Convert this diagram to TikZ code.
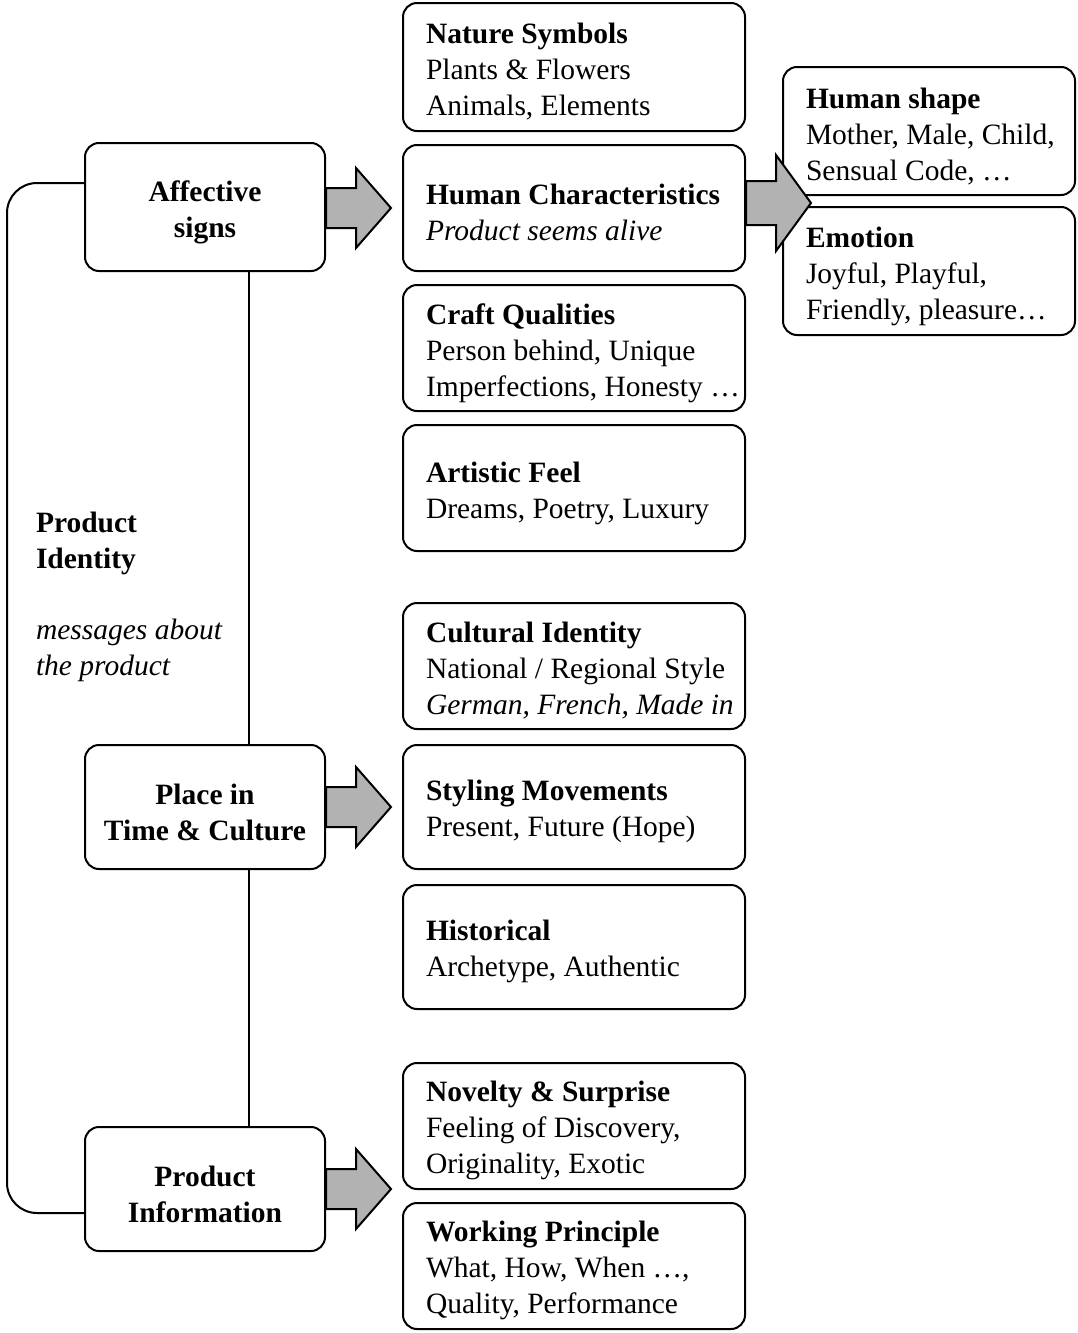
\documentclass[tikz,border=0pt]{standalone}
\usepackage{fontspec}
\setmainfont{Liberation Serif}
\begin{document}
\begin{tikzpicture}[x=1pt,y=-1pt,line width=2pt,
  rbox/.style={draw,rounded corners=14pt,fill=white,inner sep=0pt},
  txt/.style={anchor=west,align=left,inner sep=0pt,font=\fontsize{29.5}{36}\selectfont},
  ctxt/.style={align=center,inner sep=0pt,font=\fontsize{29.5}{36}\selectfont\bfseries},
  barrow/.style={draw,fill=black!30,line join=miter}]
\useasboundingbox (0,0) rectangle (1077,1333);

% left column
\node[rbox,minimum width=240pt,minimum height=128pt] (aff) at (205,207) {};
\node[rbox,minimum width=240pt,minimum height=124pt] (place) at (205,807) {};
\node[rbox,minimum width=240pt,minimum height=124pt] (pinfo) at (205,1189) {};
\node[ctxt] (taff) at ([yshift=-5pt]aff.center) {Affective\\signs};
\node[ctxt] (tplace) at ([yshift=-5pt]place.center) {Place in\\Time \& Culture};
\node[ctxt] (tpinfo) at ([yshift=-5pt]pinfo.center) {Product\\Information};

\draw ([xshift=44pt]aff.south) -- ([xshift=44pt]place.north);
\draw ([xshift=44pt]place.south) -- ([xshift=44pt]pinfo.north);
\draw[rounded corners=30pt] ([yshift=24pt]aff.west) -| ([xshift=-77pt,yshift=-24pt]pinfo.west) -- ([yshift=-24pt]pinfo.west);

\node[txt,font=\fontsize{29.5}{36}\selectfont\bfseries] (pid) at (35,543) {Product\\Identity};
\node[txt] (msg) at (35,650) {\textit{messages about}\\\textit{the product}};

% right column boxes
\node[rbox,minimum width=342pt,minimum height=128pt] (nature) at (574,67) {};
\node[rbox,minimum width=342pt,minimum height=126pt] (human) at (574,208) {};
\node[rbox,minimum width=342pt,minimum height=126pt] (craft) at (574,348) {};
\node[rbox,minimum width=342pt,minimum height=126pt] (art) at (574,488) {};
\node[rbox,minimum width=342pt,minimum height=126pt] (cult) at (574,666) {};
\node[rbox,minimum width=342pt,minimum height=124pt] (styl) at (574,807) {};
\node[rbox,minimum width=342pt,minimum height=124pt] (hist) at (574,947) {};
\node[rbox,minimum width=342pt,minimum height=126pt] (nov) at (574,1126) {};
\node[rbox,minimum width=342pt,minimum height=126pt] (work) at (574,1266) {};

\node[txt] (tnature) at ([xshift=23pt,yshift=-5pt]nature.west) {\textbf{Nature Symbols}\\Plants \& Flowers\\Animals, Elements};
\node[txt] (thuman) at ([xshift=23pt,yshift=-4pt]human.west) {\textbf{Human Characteristics}\\\textit{Product seems alive}};
\node[txt] (tcraft) at ([xshift=23pt,yshift=-5pt]craft.west) {\textbf{Craft Qualities}\\Person behind, Unique\\Imperfections, Honesty …};
\node[txt] (tart) at ([xshift=23pt,yshift=-5pt]art.west) {\textbf{Artistic Feel}\\Dreams, Poetry, Luxury};
\node[txt] (tcult) at ([xshift=23pt,yshift=-5pt]cult.west) {\textbf{Cultural Identity}\\National / Regional Style\\\textit{German, French, Made in}};
\node[txt] (tstyl) at ([xshift=23pt,yshift=-4pt]styl.west) {\textbf{Styling Movements}\\Present, Future (Hope)};
\node[txt] (thist) at ([xshift=23pt,yshift=-4pt]hist.west) {\textbf{Historical}\\Archetype, Authentic};
\node[txt] (tnov) at ([xshift=23pt,yshift=-4pt]nov.west) {\textbf{Novelty \& Surprise}\\Feeling of Discovery,\\Originality, Exotic};
\node[txt] (twork) at ([xshift=23pt,yshift=-4pt]work.west) {\textbf{Working Principle}\\What, How, When …,\\Quality, Performance};

% far right boxes
\node[rbox,minimum width=292pt,minimum height=128pt] (hshape) at (929,131) {};
\node[rbox,minimum width=292pt,minimum height=128pt] (emo) at (929,271) {};
\node[txt] (thshape) at ([xshift=23pt,yshift=-6pt]hshape.west) {\textbf{Human shape}\\Mother, Male, Child,\\Sensual Code, …};
\node[txt] (temo) at ([xshift=23pt,yshift=-5pt]emo.west) {\textbf{Emotion}\\Joyful, Playful,\\Friendly, pleasure…};

% block arrows
\draw[barrow] ([yshift=-1pt]aff.east) ++(0,-20) -- ++(30,0) -- ++(0,-20) -- ++(35,40) -- ++(-35,40) -- ++(0,-20) -- ++(-30,0) -- cycle;
\draw[barrow] (place.east) ++(0,-20) -- ++(30,0) -- ++(0,-20) -- ++(35,40) -- ++(-35,40) -- ++(0,-20) -- ++(-30,0) -- cycle;
\draw[barrow] (pinfo.east) ++(0,-20) -- ++(30,0) -- ++(0,-20) -- ++(35,40) -- ++(-35,40) -- ++(0,-20) -- ++(-30,0) -- cycle;
\draw[barrow] ([yshift=5pt]human.east) ++(0,-22) -- ++(30,0) -- ++(0,-26) -- ++(35,48) -- ++(-35,48) -- ++(0,-26) -- ++(-30,0) -- cycle;
\end{tikzpicture}
\end{document}
